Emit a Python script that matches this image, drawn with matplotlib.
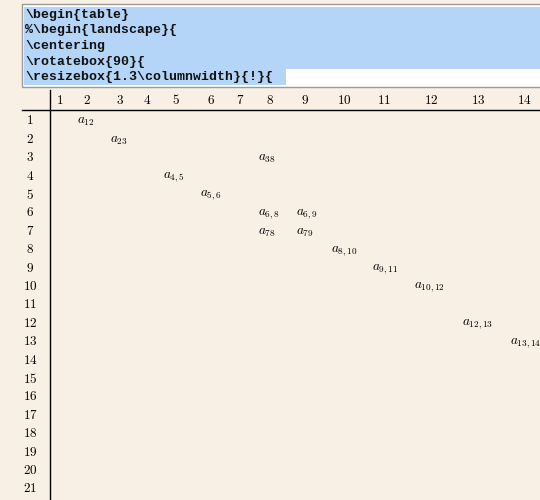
import matplotlib
matplotlib.use('Agg')
import matplotlib.pyplot as plt
from matplotlib.patches import Rectangle

plt.rcParams['mathtext.fontset'] = 'cm'

code_lines = [r'\begin{table}', r'%\begin{landscape}{', r'\centering',
              r'\rotatebox{90}{', r'\resizebox{1.3\columnwidth}{!}{']
col_labels = [str(i) for i in range(1, 15)]
col_x = [60, 87, 120, 147, 176, 211, 240, 270, 305, 344, 384, 431, 478, 524]
row_labels = [str(i) for i in range(1, 22)]

# entries: (row, left x in pixels, label)
entry_rows = [1, 2, 3, 4, 5, 6, 6, 7, 7, 8, 9, 10, 12, 13]
entry_cols = [2, 3, 8, 5, 6, 8, 9, 8, 9, 10, 11, 12, 13, 14]
entry_text = ['a_{12}', 'a_{23}', 'a_{38}', 'a_{4,5}', 'a_{5,6}', 'a_{6,8}', 'a_{6,9}',
              'a_{78}', 'a_{79}', 'a_{8,10}', 'a_{9,11}', 'a_{10,12}', 'a_{12,13}', 'a_{13,14}']

bg = '#f8efe5'
fig = plt.figure(figsize=(5.4, 5.0), dpi=100, facecolor=bg)
ax = fig.add_axes([0, 0, 1, 1])
ax.set_xlim(0, 540)
ax.set_ylim(500, 0)
ax.axis('off')
ax.set_facecolor(bg)

# code box
ax.add_patch(Rectangle((22, 4), 530, 83, facecolor='#ffffff', edgecolor='#9a9a9a', lw=1))
line_h = 15.6
for i, line in enumerate(code_lines):
    y0 = 7 + i * line_h
    w = 518 if i < 4 else 262
    ax.add_patch(Rectangle((24, y0), w, line_h, facecolor='#b4d5f7', edgecolor='none'))
    ax.text(25, y0 + line_h / 2, line, family='Liberation Mono', weight='bold',
            fontsize=9.5, va='center', ha='left', color='#111111')

# table rules
ax.plot([50, 50], [90, 500], color='black', lw=1)
ax.plot([22, 540], [110, 110], color='black', lw=1)

for lab, x in zip(col_labels, col_x):
    ax.text(x, 100, '$' + lab + '$', fontsize=9.5, ha='center', va='center')
row_y = [121 + 18.4 * i for i in range(len(row_labels))]
for lab, y in zip(row_labels, row_y):
    ax.text(30, y, '$' + lab + '$', fontsize=9.5, ha='center', va='center')

entry_dx = {8: -12, 9: -9, 2: -10, 3: -10, 5: -13, 6: -11, 10: -13, 11: -12, 12: -17, 13: -16, 14: -14}
for r, c, t in zip(entry_rows, entry_cols, entry_text):
    x = col_x[c - 1] + entry_dx.get(c, -10)
    ax.text(x, row_y[r - 1] + 1, '$' + t + '$', fontsize=9.5, ha='left', va='center')

fig.savefig('out.png', dpi=100, facecolor=bg)
